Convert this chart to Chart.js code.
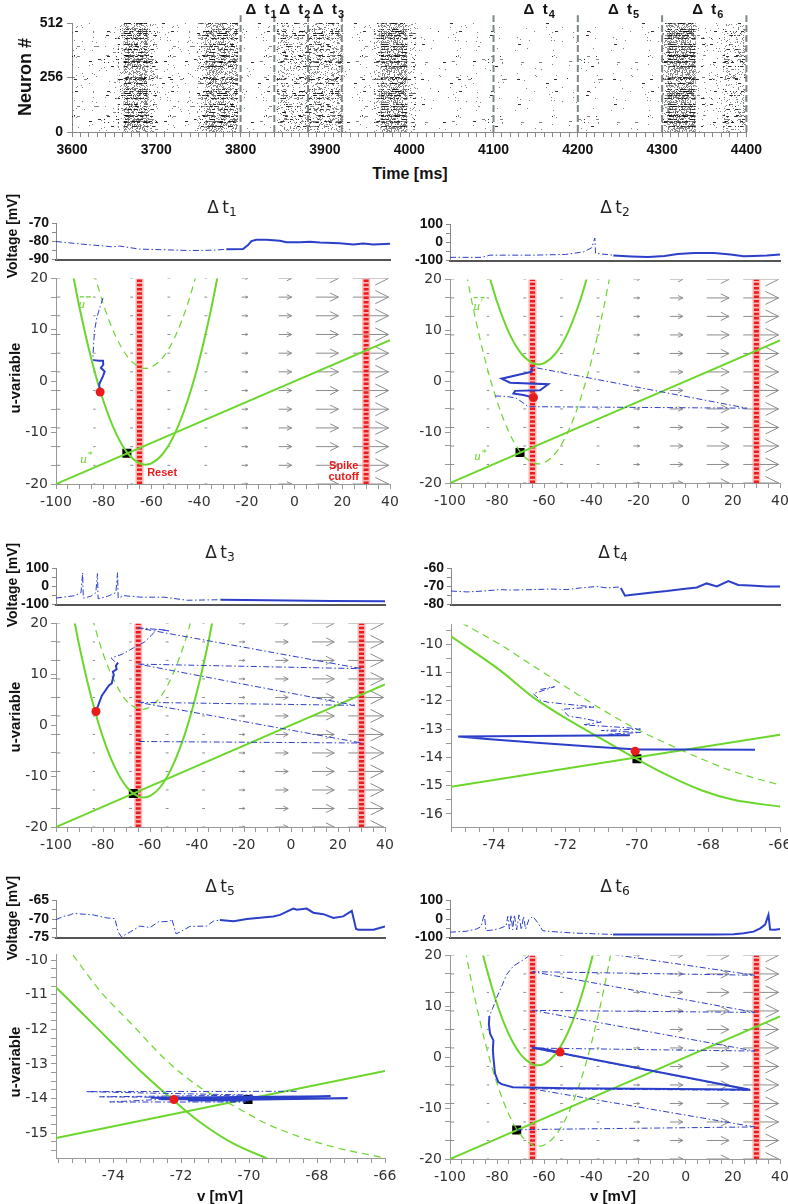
<!doctype html>
<html lang="en">
  <head>
    <meta charset="UTF-8" />
    <title>Raster and phase planes</title>
    <script src="https://cdn.jsdelivr.net/npm/chart.js"></script>
    <style>
      body { margin: 0; width: 788px; height: 1204px; position: relative; background: #fff; overflow: hidden; }
      canvas { position: absolute; }
      .txt { position: absolute; transform: translate(-50%, -50%); white-space: nowrap; color: #111; line-height: 1; }
      .rot { transform: translate(-50%, -50%) rotate(-90deg); }
      .ttl { font: 17px "DejaVu Sans", sans-serif; color: #222; }
      .ttl sub { font-size: 72%; vertical-align: -0.25em; }
      .ax { font: bold 15px "Liberation Sans", Arial, sans-serif; }
    </style>
  </head>
  <body>
    <script>
      // ---------- raster (top) ----------
      const rasterFrom = [3600, 3654, 3661, 3690, 3702, 3748, 3758, 3797, 3843, 3880, 3922, 3958, 3966, 3998, 4008, 4100, 4300, 4306, 4340, 4372];
      const rasterTo = [3654, 3661, 3690, 3702, 3748, 3758, 3797, 3843, 3880, 3922, 3958, 3966, 3998, 4008, 4100, 4300, 4306, 4340, 4372, 4400];
      const rasterDensity = [0.04, 0.3, 0.85, 0.3, 0.05, 0.3, 0.7, 0.04, 0.32, 0.45, 0.04, 0.3, 0.8, 0.25, 0.03, 0.02, 0.35, 0.85, 0.1, 0.3];
      const rasterMarks = [3800, 3840, 3880, 3920, 4100, 4200, 4300, 4400];
      const deltaAt = [3820, 3860, 3900, 4150, 4250, 4350];
      const deltaNames = ["1", "2", "3", "4", "5", "6"];

      // ---------- vector field ----------
      const arrowCols = [-100, -84.4, -68.9, -53.3, -37.8, -22.2, -6.7, 8.9, 24.4];
      const arrowLen = [1.8, 1.0, 1.2, 1.2, 1.2, 2.6, 5.5, 9.5, 15.0];
      const arrowRows = [-20, -16.36, -12.73, -9.09, -5.45, -1.82, 1.82, 5.45, 9.09, 12.73, 16.36, 20];
      const resetV = [-65, 30];
      const uLineWide = [[-100, -20], [40, 8]];
      const legendDash = [[-90, 16.4], [-84, 16.4]];

      // ---------- panel 1 ----------
      const p1VoltDash = [[0, -80], [8, -81.5], [15, -82.6], [17, -83], [19, -82.5], [25, -84.2], [33, -84.6], [40, -85], [47, -84.8], [51, -84.3]];
      const p1VoltSolid = [[51, -84.3], [56, -84.2], [57.5, -82], [58.5, -79.8], [60, -79], [63, -79.1], [67, -79.6], [69, -80.4], [73, -80.4], [76, -80.1], [79, -80.6], [85, -81], [89, -81.6], [92, -81.1], [95, -81.7], [100, -81.2]];
      const p1NullSolid = [[-93, 21], [-90, 14], [-85, 4], [-80, -4], [-75, -10], [-70, -14], [-65, -16], [-62.5, -16.25], [-60, -16], [-55, -14], [-50, -10], [-45, -4], [-40, 4], [-35, 14], [-32, 21]];
      const p1NullDash = [[-84, 21], [-80, 14.75], [-75, 8.75], [-70, 4.75], [-65, 2.75], [-62.5, 2.5], [-60, 2.75], [-55, 4.75], [-50, 8.75], [-45, 14.75], [-41, 21]];
      const p1TrajDash = [[-80.3, 16.2], [-81.5, 14.5], [-82.8, 12.5], [-83.8, 10], [-84.2, 7.5], [-84.5, 5], [-84.4, 4.1]];
      const p1TrajSolid = [[-84.4, 4.1], [-82, 4.0], [-80.3, 4.0], [-80.2, 3.2], [-81.2, 2.6], [-79.6, 1.9], [-80.3, 1.0], [-81.9, -0.6], [-81.5, -2.1]];
      const p1Rest = [-70.3, -14];
      const p1Start = [-81.5, -2.1];

      // ---------- panel 2 ----------
      const p2VoltDash = [[0, -82], [9.6, -82], [12.1, -70], [25, -70], [35, -66], [40.4, -52], [42.9, -30], [43.9, 24], [44.1, -60], [49.5, -70]];
      const p2VoltSolid = [[49.5, -72], [55, -77], [60, -80], [65, -74], [69, -63], [74, -58], [80, -58], [85, -66], [89, -76], [92, -74], [96, -72], [100, -66]];
      const p2NullSolid = [[-83.5, 20.9], [-80, 15.55], [-75, 9.55], [-70, 5.55], [-65, 3.55], [-62.5, 3.3], [-60, 3.55], [-55, 5.55], [-50, 9.55], [-45, 15.55], [-41.5, 20.9]];
      const p2NullDash = [[-93, 21], [-90, 14], [-85, 4], [-80, -4], [-75, -10], [-70, -14], [-65, -16], [-62.5, -16.25], [-60, -16], [-55, -14], [-50, -10], [-45, -4], [-40, 4], [-35, 14], [-32, 21]];
      const p2TrajDash = [[-80.9, -2.9], [-76, -3.0], [-72, -3.3], [-68.5, -4.4], [-66.9, -5.0], [25.9, -5.3], [-65.3, 2.8]];
      const p2TrajSolid = [[-65.3, 2.8], [-65.3, 1.85], [-78.1, 0.5], [-74.5, -0.3], [-58.3, -0.6], [-61.8, -1.8], [-72.4, -1.9], [-73.1, -2.4], [-68.9, -2.7], [-64.6, -3.2]];
      const p2Rest = [-70.3, -14];
      const p2Start = [-64.6, -3.2];

      // ---------- panel 3 ----------
      const p3VoltDash = [[0, -64], [5.6, -51], [7.6, -34], [8.1, 76], [8.3, -64], [10.6, -54], [12.1, -34], [12.6, 71], [12.8, -68], [15.7, -54], [18.2, -34], [18.7, 76], [18.9, -64], [20.7, -51], [25.8, -59], [32.8, -59], [39.9, -76], [50, -73]];
      const p3VoltSolid = [[50, -73], [64, -76], [84, -80], [100, -81]];
      const p3NullSolid = [[-92.4, 21], [-90, 15.4], [-85, 5.5], [-80, -2.4], [-75, -8.25], [-70, -12.1], [-65, -14.0], [-62.8, -14.2], [-60, -13.9], [-55, -11.8], [-50, -7.6], [-45, -1.5], [-40, 6.6], [-35, 16.7], [-33.2, 21]];
      const p3NullDash = [[-84.5, 20.9], [-80, 14.1], [-75, 8.5], [-70, 4.8], [-65, 3.2], [-63.4, 3.1], [-60, 3.6], [-55, 5.9], [-50, 10.3], [-45, 16.6], [-42.2, 21.1]];
      const p3TrajDash = [[-64.8, -3.2], [30.1, -3.5], [-65, 4.5], [27.2, 3.9], [-65, 12.0], [30.1, 11.1], [-65, 19.1], [-56, 18.8], [-51.5, 18.5], [-57, 18.9], [-59.5, 17.6], [-62.5, 16.3], [-67, 15.2], [-72, 13.9], [-76.5, 13.2], [-75, 12.5], [-73.6, 12.3]];
      const p3TrajSolid = [[-73.6, 12.3], [-74.5, 11.7], [-74.2, 11.0], [-75.8, 10.5], [-75.4, 9.9], [-76.3, 8.2], [-77.5, 7.8], [-80.5, 5.8], [-83, 2.7]];
      const p3Rest = [-67.1, -13.4];
      const p3Start = [-83, 2.7];

      // ---------- panel 4 ----------
      const p4VoltDash = [[0, -72.5], [4.9, -73], [9.9, -72.5], [15, -71.7], [18, -72], [25, -71.7], [30.2, -71.4], [35.2, -71.7], [39.3, -70.8], [44.3, -70], [47.4, -70.8], [50.9, -70.3], [51.6, -70.8]];
      const p4VoltSolid = [[51.6, -70.8], [52.9, -75.1], [54.5, -74.7], [60.5, -73.4], [65.6, -72.5], [70.6, -71.4], [74.7, -70.5], [77.7, -68.3], [80.8, -70], [84.3, -67], [87.3, -69.2], [90.9, -69.5], [96, -70], [100, -70]];
      const p4NullSolid = [[-75.2, -9.72], [-73.8, -10.95], [-72.9, -11.88], [-71.96, -12.64], [-71.0, -13.34], [-70.1, -13.99], [-69.15, -14.63], [-68.2, -15.16], [-67.3, -15.5], [-66, -15.74]];
      const p4NullDash = [[-74.9, -9.25], [-73.83, -10.01], [-72.9, -10.77], [-71.96, -11.53], [-71.0, -12.29], [-70.1, -12.94], [-69.15, -13.52], [-68.2, -14.05], [-67.3, -14.5], [-66, -14.98]];
      const p4ULine = [[-75.2, -15.04], [-66, -13.2]];
      const p4TrajDash = [[-72.7, -11.6], [-72.3, -11.5], [-72.9, -11.75], [-72.7, -11.98], [-72.5, -12.05], [-71.2, -12.22], [-72.1, -12.3], [-71.9, -12.55], [-71.6, -12.6], [-71.0, -12.75], [-71.5, -12.85], [-70.3, -12.95], [-69.9, -13.0], [-71, -13.05], [-69.9, -13.12], [-70.8, -13.18], [-70.2, -13.22]];
      const p4TrajSolid = [[-70.2, -13.22], [-75, -13.26], [-74.2, -13.35], [-72.8, -13.48], [-71.2, -13.62], [-70, -13.72], [-68.5, -13.72], [-66.7, -13.73]];
      const p4Rest = [-70.0, -14.05];
      const p4Start = [-70.05, -13.78];

      // ---------- panel 5 ----------
      const p5VoltDash = [[0, -70.2], [2.2, -69.3], [4.3, -68.9], [5.3, -68.5], [8.3, -68.7], [11.3, -68.9], [15.4, -69.7], [17.9, -69.9], [18.9, -73.5], [19.9, -74.8], [22.5, -73.5], [25.5, -71.9], [28.6, -72.3], [31.1, -70.8], [34.7, -70.6], [35.2, -70], [36.5, -74], [37.7, -73.5], [40.7, -72], [45.8, -71.9], [47.8, -70.6], [49.8, -70.3]];
      const p5VoltSolid = [[49.8, -70.3], [54, -70.6], [58, -70], [66, -69.3], [68.1, -68.9], [72.1, -67.2], [73.2, -67.5], [76.2, -67.2], [78.2, -68.3], [81.3, -68.7], [84.3, -69.7], [87.3, -69.3], [89.9, -67.8], [91.2, -72.7], [91.9, -72.9], [96.5, -72.9], [100, -72]];
      const p5NullSolid = [[-75.69, -10.77], [-74.88, -11.56], [-74.0, -12.42], [-73.21, -13.19], [-72.23, -14.05], [-71.45, -14.68], [-70.47, -15.3], [-69.48, -15.73], [-69.2, -15.85]];
      const p5NullDash = [[-75.18, -9.85], [-74.39, -10.88], [-73.41, -11.89], [-72.43, -12.9], [-71.45, -13.67], [-70.47, -14.2], [-69.48, -14.73], [-68.5, -15.11], [-67.52, -15.4], [-66.05, -15.71]];
      const p5ULine = [[-75.68, -15.14], [-66, -13.2]];
      const p5TrajDash = [[-68.6, -13.79], [-74.8, -13.8], [-73.5, -13.83], [-69.9, -13.9], [-74.4, -13.95], [-71.5, -13.97], [-74.1, -14.1], [-70.1, -14.1], [-72.9, -13.98]];
      const p5TrajSolid = [[-72.9, -13.98], [-67.6, -13.93], [-72.6, -14.02], [-67.1, -13.99], [-71.8, -14.06], [-70.0, -14.05]];
      const p5Rest = [-70.03, -14.03];
      const p5Start = [-72.21, -14.03];

      // ---------- panel 6 ----------
      const p6VoltDash = [[0, -71], [4.9, -66], [8, -54], [9.4, -41], [10.4, 27], [10.9, -63], [12.9, -59], [15, -51], [17, -37], [17.5, 14], [18, -54], [18.5, 22], [19, -58], [19.5, 22], [20.2, -58], [20.9, 22], [21.6, -58], [22.3, 14], [22.9, -54], [23.9, -3], [25.1, 14], [26.6, -20], [28.1, -63], [31.2, -68], [37.2, -75], [44.3, -80], [49.4, -83]];
      const p6VoltSolid = [[49.4, -83], [60, -84], [70, -84], [80, -83], [86, -82], [89, -76], [92, -68], [94, -50], [95.5, -30], [96.5, 22], [97, -57], [98.5, -58], [100, -54]];
      const p6NullSolid = [[-86.2, 20.5], [-85, 18.3], [-80, 10.4], [-75, 4.45], [-70, 0.53], [-65, -1.39], [-62.7, -1.6], [-60, -1.31], [-55, 0.77], [-50, 4.85], [-45, 10.9], [-40, 19.0], [-39.3, 20.3]];
      const p6NullDash = [[-93.5, 21], [-90, 12.75], [-85, 2.75], [-80, -5.25], [-75, -11.25], [-70, -15.25], [-65, -17.25], [-62.5, -17.5], [-60, -17.25], [-55, -15.25], [-50, -11.25], [-45, -5.25], [-40, 2.75], [-35, 12.75], [-31.5, 21]];
      const p6TrajDash = [[-71.7, -14.3], [-65, -14.2], [29.3, -13.7], [-65.4, -6.2], [27.5, -6.5], [-65.2, 1.8], [29.3, 1.2], [-65, 9.2], [29.3, 8.8], [-65, 16.8], [29.3, 16.1], [-65, 22.5], [-66.8, 19.8], [-70, 18.8], [-73.1, 17.9], [-75.9, 16.3], [-78, 14], [-80.2, 11.7], [-82, 9.5], [-83.3, 8.1]];
      const p6TrajSolid = [[-83.3, 8.1], [-83.5, 6.5], [-83.0, 4.6], [-81.6, 3.3], [-81.8, 1.5], [-81.6, 0], [-80.9, -3.2], [-79.5, -4.9], [-78.1, -5.3], [-73.3, -5.9], [-50, -6.1], [-20, -6.2], [10, -6.3], [27.3, -6.4], [-65.3, 1.9], [-60, 1.6], [-53.3, 1.0]];
      const p6Rest = [-71.7, -14.3];
      const p6Start = [-53.3, 1.0];

      // ---------- styling ----------
      const GREEN = "#6bd62b";
      const BLUE = "#2c3fc9";
      const RED = "#ec1b1b";
      const ARROW = "#8c8c8c";
      const SANS = '"Liberation Sans", Arial, sans-serif';
      const TICKFONT = '"DejaVu Sans", sans-serif';
      const DASHDOT = [6, 2.5, 1.5, 2.5];

      const notes = {
        id: "notes",
        defaults: { items: [] },
        afterDatasetsDraw(chart, args, opts) {
          const { ctx } = chart;
          const sx = chart.scales.x, sy = chart.scales.y;
          ctx.save();
          opts.items.forEach((it) => {
            ctx.font = it.font;
            ctx.fillStyle = it.color || "#111";
            ctx.textAlign = it.align || "center";
            ctx.textBaseline = "middle";
            const px = sx.getPixelForValue(it.x);
            const py = it.py != null ? it.py : sy.getPixelForValue(it.y);
            ctx.fillText(it.text, px, py);
            if (it.sub) {
              const w = ctx.measureText(it.text).width;
              const x0 = ctx.textAlign === "center" ? px + w / 2 : px + w;
              ctx.font = it.subFont;
              ctx.textAlign = "left";
              ctx.fillText(it.sub, x0 + 1, py + it.subDy);
            }
          });
          ctx.restore();
        },
      };
      Chart.register(notes);

      const xy = (a) => a.map((p) => ({ x: p[0], y: p[1] }));
      const isStep = (v, every) => Math.abs(v / every - Math.round(v / every)) < 1e-6;

      function axis(min, max, o) {
        const a = {
          type: "linear",
          min,
          max,
          ticks: {
            display: o.labels !== false,
            stepSize: o.step,
            autoSkip: false,
            maxRotation: 0,
            minRotation: 0,
            includeBounds: false,
            padding: o.pad == null ? 4 : o.pad,
            color: o.color || "#333",
            font: o.font,
            callback: (v) => (isStep(v, o.every) ? String(Math.round(v)) : ""),
          },
          grid: {
            display: o.marks !== false,
            drawOnChartArea: false,
            tickLength: o.tickLen == null ? 5 : o.tickLen,
            color: o.tickColor || "#999",
          },
          border: { display: true, color: o.border || "#999", width: o.borderWidth || 1 },
        };
        if (o.list) a.afterBuildTicks = (s) => { s.ticks = o.list.map((value) => ({ value })); };
        return a;
      }

      function makeChart(box, m, datasets, xScale, yScale, items) {
        const cv = document.createElement("canvas");
        const W = box[2] - box[0] + m.l + m.r;
        const H = box[3] - box[1] + m.t + m.b;
        cv.width = W;
        cv.height = H;
        cv.style.left = box[0] - m.l + "px";
        cv.style.top = box[1] - m.t + "px";
        cv.style.width = W + "px";
        cv.style.height = H + "px";
        document.body.appendChild(cv);
        xScale.afterFit = (s) => { s.height = m.b; };
        yScale.afterFit = (s) => { s.width = m.l; };
        return new Chart(cv, {
          type: "line",
          data: { datasets },
          options: {
            responsive: false,
            animation: false,
            devicePixelRatio: 1,
            events: [],
            layout: { padding: { top: m.t, right: m.r, left: 0, bottom: 0 } },
            scales: { x: xScale, y: yScale },
            plugins: { legend: { display: false }, tooltip: { enabled: false }, notes: { items: items || [] } },
          },
        });
      }

      function line(data, color, width, dash, order, extra) {
        return Object.assign(
          { data: xy(data), borderColor: color, borderWidth: width, borderDash: dash || [], pointRadius: 0, tension: 0, fill: false, order },
          extra || {}
        );
      }

      function marker(p, style, r, color, order) {
        return { data: xy([p]), showLine: false, pointStyle: style, pointRadius: r, backgroundColor: color, borderColor: color, borderWidth: 0, order };
      }

      // ---------- raster texture (fill style for burst windows) ----------
      function hash(a, b) {
        let h = Math.imul(a, 374761393) + Math.imul(b, 668265263);
        h = Math.imul(h ^ (h >>> 13), 1274126177);
        return ((h ^ (h >>> 16)) >>> 0) / 4294967296;
      }
      const patterns = {};
      function stipple(d) {
        if (patterns[d]) return patterns[d];
        const c = document.createElement("canvas");
        c.width = 96;
        c.height = 60;
        const g = c.getContext("2d");
        for (let r = 0; r < 60; r++) {
          const rowW = hash(r + 3, 11);
          const band = rowW < 0.3 ? 1.45 : rowW < 0.75 ? 1.0 : 0.65;
          for (let k = 0; k < 96; k++) {
            const h = hash(r + 1, k + 7);
            if (h < d * band * 0.5) {
              g.fillStyle = band > 1.2 && h < d * 0.35 ? "rgba(10,10,10,0.85)" : "rgba(50,50,50,0.6)";
              const len = band > 1.2 && hash(k, r) < 0.5 ? 3 : 1;
              g.fillRect(k, r, len, 1);
            }
          }
        }
        patterns[d] = g.createPattern(c, "repeat");
        return patterns[d];
      }

      const rasterSets = rasterFrom.map((s, i) => ({
        data: xy([[s, 512], [rasterTo[i], 512]]),
        borderWidth: 0,
        pointRadius: 0,
        fill: "origin",
        backgroundColor: stipple(rasterDensity[i]),
        order: 5,
      }));
      rasterMarks.forEach((t) =>
        rasterSets.push({ data: xy([[t, 0], [t, 548]]), borderColor: "#7b8788", borderWidth: 2, borderDash: [7, 3], pointRadius: 0, clip: false, order: 1 })
      );
      makeChart(
        [72, 23, 747, 132],
        { l: 72, r: 20, t: 23, b: 32 },
        rasterSets,
        axis(3600, 4400, { step: 10, every: 100, pad: 5, color: "#111", font: { family: SANS, size: 14, weight: "bold" }, tickColor: "#888", border: "#888", tickLen: 5 }),
        axis(0, 512, { list: [0, 256, 512], every: 256, pad: 4, color: "#111", font: { family: SANS, size: 14, weight: "bold" }, tickColor: "#888", border: "#888", tickLen: 5 }),
        deltaAt.map((t, i) => ({ x: t, py: 10, text: "\u0394  t", font: "bold 15px " + SANS, color: "#111", sub: deltaNames[i], subFont: "bold 11px " + SANS, subDy: 5 }))
      );

      // ---------- panels ----------
      function arrowPoints() {
        const pts = [];
        arrowCols.forEach((v, i) => {
          const L = arrowLen[i];
          arrowRows.forEach((u) => {
            const tip = v + L;
            pts.push({ x: v, y: u }, { x: tip, y: u }, { x: tip, y: null });
            if (L > 2) {
              const hl = 0.37 * L, hh = 0.085 * L;
              pts.push({ x: tip - hl, y: u + hh }, { x: tip, y: u }, { x: tip - hl, y: u - hh }, { x: tip, y: null });
            }
          });
        });
        return pts;
      }

      const wideU = arrowRows.concat([-10, 0, 10]).sort((a, b) => a - b);
      const voltFont = { family: SANS, size: 14, weight: "bold" };
      const phaseFont = { family: TICKFONT, size: 14 };

      const panels = [
        { volt: [56, 222, 390, 261], phase: [56, 277, 390, 484], vr: [-90, -70, 5, 10], vd: p1VoltDash, vs: p1VoltSolid,
          xr: [-100, 40, 5, 20], ur: [-20, 20], field: true, ns: p1NullSolid, nd: p1NullDash, ul: uLineWide, legend: true,
          td: p1TrajDash, ts: p1TrajSolid, rest: p1Rest, start: p1Start, labels: "p1" },
        { volt: [450, 223, 780, 262], phase: [450, 278, 780, 483], vr: [-100, 100, 50, 100], vd: p2VoltDash, vs: p2VoltSolid,
          xr: [-100, 40, 5, 20], ur: [-20, 20], field: true, ns: p2NullSolid, nd: p2NullDash, ul: uLineWide, legend: true,
          td: p2TrajDash, ts: p2TrajSolid, rest: p2Rest, start: p2Start, labels: "p2" },
        { volt: [56, 567, 385, 606], phase: [56, 622, 385, 827], vr: [-100, 100, 50, 100], vd: p3VoltDash, vs: p3VoltSolid,
          xr: [-100, 40, 5, 20], ur: [-20, 20], field: true, ns: p3NullSolid, nd: p3NullDash, ul: uLineWide,
          td: p3TrajDash, ts: p3TrajSolid, rest: p3Rest, start: p3Start },
        { volt: [451, 567, 780, 606], phase: [451, 623, 780, 827], vr: [-80, -60, 5, 10], vd: p4VoltDash, vs: p4VoltSolid,
          xr: [-75.2, -66, 0.4, 2], ur: [-16.46, -9.3, 0.5, 1], ns: p4NullSolid, nd: p4NullDash, ul: p4ULine,
          td: p4TrajDash, ts: p4TrajSolid, rest: p4Rest, start: p4Start },
        { volt: [56, 899, 385, 939], phase: [56, 953, 385, 1158], vr: [-75, -65, 2.5, 5], vd: p5VoltDash, vs: p5VoltSolid,
          xr: [-75.68, -66, 0.4, 2], ur: [-15.72, -9.83, 0.25, 1], ns: p5NullSolid, nd: p5NullDash, ul: p5ULine,
          td: p5TrajDash, ts: p5TrajSolid, rest: p5Rest, start: p5Start },
        { volt: [450, 899, 780, 939], phase: [450, 954, 780, 1159], vr: [-100, 100, 50, 100], vd: p6VoltDash, vs: p6VoltSolid,
          xr: [-100, 40, 5, 20], ur: [-20, 20], field: true, ns: p6NullSolid, nd: p6NullDash, ul: uLineWide,
          td: p6TrajDash, ts: p6TrajSolid, rest: p6Rest, start: p6Start },
      ];

      const uNote = (x, y, sup) => ({ x, y, text: "u", font: "italic 13px 'Liberation Serif', serif", color: GREEN, sub: sup, subFont: "10px 'Liberation Serif', serif", subDy: -4 });

      panels.forEach((p) => {
        // voltage trace
        makeChart(
          p.volt,
          { l: 50, r: 12, t: 10, b: 10 },
          [line(p.vd, BLUE, 1, DASHDOT, 2), line(p.vs, BLUE, 2, [], 1)],
          axis(0, 100, { labels: false, marks: false, step: 10, every: 10, border: "#555", borderWidth: 2 }),
          axis(p.vr[0], p.vr[1], { step: p.vr[2], every: p.vr[3], pad: 3, color: "#111", font: voltFont, tickLen: 4, tickColor: "#888", border: "#888" })
        );

        // phase plane
        const sets = [];
        if (p.field) {
          sets.push({ data: arrowPoints(), borderColor: ARROW, borderWidth: 1, pointRadius: 0, spanGaps: false, order: 10 });
          resetV.forEach((v) => {
            const col = xy([[v, p.ur[0]], [v, p.ur[1]]]);
            sets.push({ data: col, borderColor: "rgba(255,150,150,0.7)", borderWidth: 8, pointRadius: 0, order: 9 });
            sets.push({ data: col, borderColor: RED, borderWidth: 5, borderDash: [2.5, 1.8], pointRadius: 0, order: 8 });
          });
        }
        sets.push(marker(p.rest, "rect", 6.4, "#000", 6));
        sets.push(line(p.nd, GREEN, 1.2, [7, 5], 5, { cubicInterpolationMode: "monotone" }));
        sets.push(line(p.ns, GREEN, 2, [], 5, { cubicInterpolationMode: "monotone" }));
        sets.push(line(p.ul, GREEN, 2, [], 5));
        if (p.legend) sets.push(line(legendDash, GREEN, 1.2, [4, 3], 5));
        sets.push(line(p.td, BLUE, 1, DASHDOT, 3));
        sets.push(line(p.ts, BLUE, 2, [], 2));
        sets.push(marker(p.start, "circle", 4.5, RED, 1));

        const items = [];
        if (p.labels === "p1") {
          const f = "bold 11px " + SANS;
          items.push({ x: -61.8, y: -17.8, text: "Reset", font: f, color: RED, align: "left" });
          items.push({ x: 20.6, y: -16.5, text: "Spike", font: f, color: RED });
          items.push({ x: 20.6, y: -18.7, text: "cutoff", font: f, color: RED });
          items.push(uNote(-89.2, 14.9, "'"), uNote(-88.5, -15.2, "*"));
        }
        if (p.labels === "p2") items.push(uNote(-88.7, 14.6, "'"), uNote(-88.3, -14.9, "*"));

        const yOpts = p.field ? { list: wideU, every: 10 } : { step: p.ur[2], every: p.ur[3] };
        makeChart(
          p.phase,
          { l: 50, r: 18, t: 10, b: 32 },
          sets,
          axis(p.xr[0], p.xr[1], { step: p.xr[2], every: p.xr[3], pad: 5, color: "#333", font: phaseFont, tickLen: 5, tickColor: "#999", border: "#999" }),
          axis(p.ur[0], p.ur[1], Object.assign(yOpts, { pad: 3, color: "#333", font: phaseFont, tickLen: 5, tickColor: "#999", border: "#999" })),
          items
        );
      });

      // ---------- text ----------
      function txt(html, x, y, cls, style) {
        const d = document.createElement("div");
        d.className = "txt " + cls;
        d.style.left = x + "px";
        d.style.top = y + "px";
        if (style) d.style.cssText += style;
        d.innerHTML = html;
        document.body.appendChild(d);
      }
      txt("Neuron #", 25, 77, "ax rot", "font-size:18px");
      txt("Time [ms]", 410, 174, "ax", "font-size:16px");
      [["1", 222, 208], ["2", 615, 208], ["3", 220, 553], ["4", 613, 553], ["5", 220, 887], ["6", 615, 887]].forEach(([n, x, y]) =>
        txt("\u0394&thinsp;t<sub>" + n + "</sub>", x, y, "ttl")
      );
      [236, 585, 918].forEach((y) => txt("Voltage [mV]", 12, y, "ax rot", "font-size:14px"));
      [378, 717, 1062].forEach((y) => txt("u-variable", 14, y, "ax rot", "font-size:15px"));
      txt("v [mV]", 220, 1195, "ax", "font-size:15px");
      txt("v [mV]", 613, 1195, "ax", "font-size:15px");
    </script>
  </body>
</html>
